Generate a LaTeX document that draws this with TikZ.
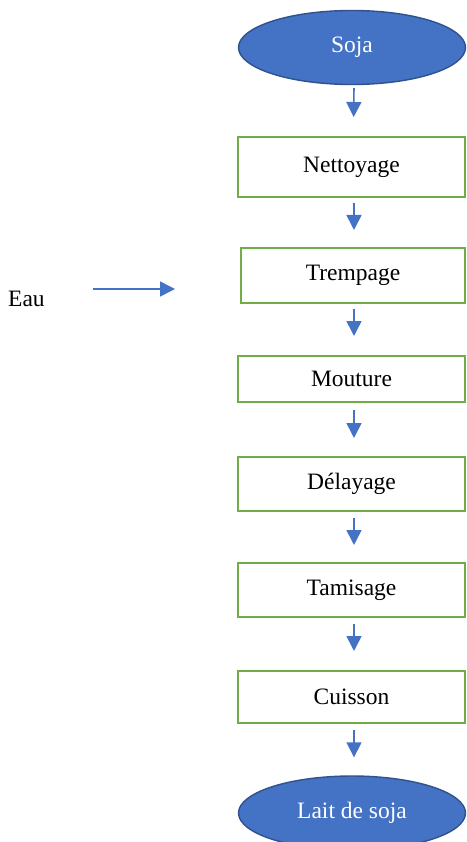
\documentclass[tikz,border=0pt]{standalone}
\usepackage{fontspec}
\setmainfont{Liberation Serif}
\usetikzlibrary{shapes.geometric,arrows.meta}

\definecolor{stepgreen}{HTML}{70AD47}
\definecolor{flowblue}{HTML}{4472C4}
\definecolor{ovaledge}{HTML}{2F528F}

\tikzset{
  stepbox/.style={draw=stepgreen, line width=2pt, fill=white, rectangle,
    inner sep=0pt, font=\fontsize{23.5}{26}\selectfont},
  terminal/.style={ellipse, draw=ovaledge, line width=1.4pt, fill=flowblue,
    text=white, inner sep=0pt, minimum width=227pt, minimum height=74pt,
    font=\fontsize{23.5}{26}\selectfont},
  flow/.style={draw=flowblue, line width=1.6pt,
    -{Triangle[length=15pt,width=15pt]}},
}

\begin{document}
\begin{tikzpicture}[x=1pt,y=-1pt]
  \useasboundingbox (0,0) rectangle (466,842);

  % start and end of the process
  \node[terminal] (soja) at (352,47.5) {Soja};
  \node[terminal] (lait) at (352,813) {Lait de soja};

  % processing steps
  \node[stepbox, minimum width=227pt, minimum height=60pt] (nett) at (351.5,167) {Nettoyage};
  \node[stepbox, minimum width=224pt, minimum height=55pt] (tremp) at (353,275.5) {Trempage};
  \node[stepbox, minimum width=227pt, minimum height=46pt] (mout) at (351.5,379) {Mouture};
  \node[stepbox, minimum width=227pt, minimum height=54pt] (delay) at (351.5,484) {Délayage};
  \node[stepbox, minimum width=227pt, minimum height=54pt] (tamis) at (351.5,590) {Tamisage};
  \node[stepbox, minimum width=227pt, minimum height=52pt] (cuis) at (351.5,697) {Cuisson};

  % water input
  \node[font=\fontsize{23.5}{26}\selectfont, anchor=west, inner sep=0pt] (eau) at (8,299) {Eau};
  \coordinate (eauend) at (175,289);
  \draw[flow, shorten <=48pt] (eau.east |- eauend) -- (eauend);

  % flow arrows between steps
  \draw[flow, shorten <=3pt, shorten >=19pt] ([xshift=2pt]soja.south) -- ([xshift=2pt]nett.north);
  \draw[flow, shorten <=5pt, shorten >=17pt] ([xshift=2.5pt]nett.south) -- ([xshift=2.5pt]nett.south |- tremp.north);
  \draw[flow, shorten <=5pt, shorten >=19pt] ([xshift=1pt]tremp.south) -- ([xshift=1pt]tremp.south |- mout.north);
  \draw[flow, shorten <=7pt, shorten >=18pt] ([xshift=2.5pt]mout.south) -- ([xshift=2.5pt]delay.north);
  \draw[flow, shorten <=6pt, shorten >=17pt] ([xshift=2.5pt]delay.south) -- ([xshift=2.5pt]tamis.north);
  \draw[flow, shorten <=6pt, shorten >=19pt] ([xshift=2.5pt]tamis.south) -- ([xshift=2.5pt]cuis.north);
  \draw[flow, shorten <=6pt, shorten >=18pt] ([xshift=2.5pt]cuis.south) -- ([xshift=2.5pt]cuis.south |- lait.north);
\end{tikzpicture}
\end{document}
